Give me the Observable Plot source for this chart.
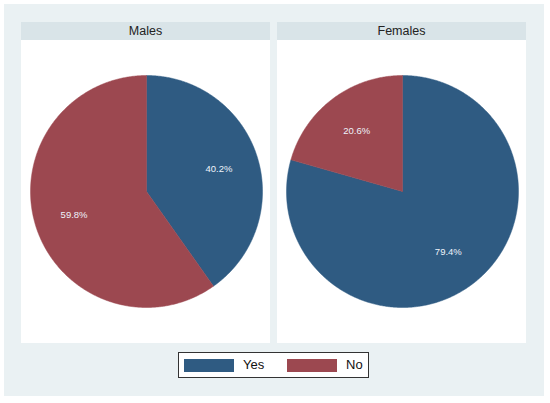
<!DOCTYPE html>
<html><head><meta charset="utf-8">
<script src="https://cdn.jsdelivr.net/npm/d3@7"></script>
<script src="https://cdn.jsdelivr.net/npm/@observablehq/plot@0.6"></script>
<style>
body{margin:0;background:#fff;font-family:"Liberation Sans",Arial,sans-serif;}
#outer{position:absolute;left:4px;top:4px;width:540px;height:392px;background:#eaf1f3;}
.panel{position:absolute;top:18px;width:249px;height:321px;background:#fff;}
.head{height:18px;background:#d9e4e8;text-align:center;font-size:12.5px;line-height:18px;color:#222;}
.panel svg{display:block;}
#legend{position:absolute;left:174px;top:348px;width:189px;height:24px;background:#fff;border:1px solid #333;}
.sw{position:absolute;top:6px;width:50px;height:13px;}
.lt{position:absolute;top:4px;font-size:13px;line-height:16px;color:#111;}
</style></head>
<body>
<div id="outer"></div>
<script>
const groups = ["Males", "Females"];
const answers = ["Yes", "No"];
const malesPct = [40.2, 59.8];
const femalesPct = [79.4, 20.6];
const colors = ["#2f5b82", "#9c4850"];

const values = {Males: malesPct, Females: femalesPct};
const outer = document.getElementById("outer");
const panelLeft = [17, 273];

groups.forEach((g, gi) => {
  const pie = d3.pie().sort(null).value(d => d.pct)(answers.map((a, i) => ({answer: a, pct: values[g][i]})));
  const pts = [];
  const labels = [];
  pie.forEach(s => {
    const key = g + "-" + s.data.answer;
    pts.push({key, answer: s.data.answer, x: 0, y: 0});
    const n = Math.max(2, Math.ceil((s.endAngle - s.startAngle) / (Math.PI / 360)));
    for (let k = 0; k <= n; k++) {
      const a = s.startAngle + (s.endAngle - s.startAngle) * k / n;
      pts.push({key, answer: s.data.answer, x: Math.sin(a), y: Math.cos(a)});
    }
    pts.push({key, answer: s.data.answer, x: 0, y: 0});
    const m = (s.startAngle + s.endAngle) / 2;
    labels.push({x: 0.655 * Math.sin(m), y: 0.655 * Math.cos(m), text: s.data.pct.toFixed(1) + "%"});
  });

  const chart = Plot.plot({
    width: 249, height: 303,
    marginLeft: 9, marginRight: 8, marginTop: 35, marginBottom: 36,
    x: {domain: [-1, 1], axis: null},
    y: {domain: [-1, 1], axis: null},
    color: {domain: answers, range: colors},
    style: {background: "#fff", fontFamily: "Liberation Sans, Arial, sans-serif"},
    marks: [
      Plot.line(pts, {x: "x", y: "y", z: "key", fill: "answer", stroke: "answer", strokeWidth: 0.5, curve: "linear"}),
      Plot.text(labels, {x: "x", y: "y", text: "text", fill: "#eef3fb", fontSize: 9.5})
    ]
  });

  const panel = document.createElement("div");
  panel.className = "panel";
  panel.style.left = panelLeft[gi] + "px";
  const head = document.createElement("div");
  head.className = "head";
  head.textContent = g;
  panel.appendChild(head);
  panel.appendChild(chart);
  outer.appendChild(panel);
});

const legend = document.createElement("div");
legend.id = "legend";
const swX = [5, 108], txX = [64, 167];
answers.forEach((a, i) => {
  const sw = document.createElement("div");
  sw.className = "sw"; sw.style.left = swX[i] + "px"; sw.style.background = colors[i];
  const t = document.createElement("div");
  t.className = "lt"; t.style.left = txX[i] + "px"; t.textContent = a;
  legend.appendChild(sw); legend.appendChild(t);
});
outer.appendChild(legend);
</script>
</body></html>
